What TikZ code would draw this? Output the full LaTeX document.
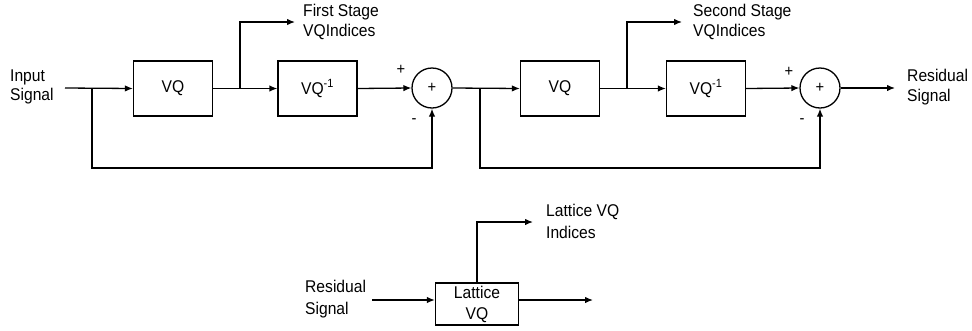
\documentclass[tikz,border=0pt]{standalone}
\usepackage{fontspec}
\setmainfont[FakeStretch=0.92]{Liberation Sans}
\usetikzlibrary{arrows.meta}
\begin{document}
\begin{tikzpicture}[x=1pt,y=-1pt,
  blk/.style={draw, line width=1.3pt, minimum width=79pt, minimum height=55pt, inner sep=0pt, font=\fontsize{17}{21}\selectfont, align=center},
  sum/.style={draw, circle, line width=1.3pt, minimum size=40pt, inner sep=0pt, font=\fontsize{16}{17}\selectfont},
  lbl/.style={font=\fontsize{17}{19.5}\selectfont, align=left, inner sep=0pt},
  sgn/.style={font=\fontsize{16}{16}\selectfont, inner sep=0pt},
  wire/.style={line width=1.3pt},
  arr/.style={wire, -{Latex[length=8pt,width=6.5pt]}}]
\useasboundingbox (0,0) rectangle (972,330);
% blocks
\node[blk] (vq1) at (173,88.5) {VQ};
\node[blk] (ivq1) at (317.5,88.5) {VQ\textsuperscript{-1}};
\node[sum] (s1) at (432,88) {+};
\node[blk] (vq2) at (560,88.5) {VQ};
\node[blk] (ivq2) at (706,88.5) {VQ\textsuperscript{-1}};
\node[sum] (s2) at (820,88) {+};
\node[blk, minimum width=83pt, minimum height=42pt] (lvq) at (477,304) {Lattice\\VQ};
% labels
\node[lbl, anchor=west] (in) at (10,87) {Input\\Signal};
\node[lbl, anchor=west] (fs) at (303,22) {First Stage\\VQIndices};
\node[lbl, anchor=west] (ss) at (693,22) {Second Stage\\VQIndices};
\node[lbl, anchor=west] (rs) at (907,87) {Residual\\Signal};
\node[lbl, anchor=west, font=\fontsize{17}{22}\selectfont] (rs2) at (305,299) {Residual\\Signal};
\node[lbl, anchor=west, font=\fontsize{17}{22}\selectfont] (li) at (546,221) {Lattice VQ\\Indices};
\node[sgn] (p1) at (401,70) {+};
\node[sgn] (m1) at (414,121) {-};
\node[sgn] (p2) at (789,72) {+};
\node[sgn] (m2) at (802,121) {-};
% coordinates
\coordinate (inS) at (65,88);
\coordinate (b1) at (92,88);
\coordinate (b2) at (240,88);
\coordinate (t1) at (295,22);
\coordinate (b3) at (480,88);
\coordinate (b4) at (627,88);
\coordinate (t2) at (682,22);
\coordinate (out1) at (895,88);
\coordinate (lin) at (372,300);
\coordinate (lout) at (593,300);
\coordinate (t3) at (533,222);
% connectors
\draw[arr] (inS) -- (vq1.west);
\draw[arr] (vq1.east) -- (ivq1.west);
\draw[arr] (b2) |- (t1);
\draw[arr] (ivq1.east) -- (s1.west);
\draw[arr] (b1) -- ++(0,80) -| (s1.south);
\draw[arr] (s1.east) -- (vq2.west);
\draw[arr] (b3) -- ++(0,80) -| (s2.south);
\draw[arr] (vq2.east) -- (ivq2.west);
\draw[arr] (b4) |- (t2);
\draw[arr] (ivq2.east) -- (s2.west);
\draw[arr] (s2.east) -- (out1);
\draw[arr] (lin) -- (lin -| lvq.west);
\draw[arr] (lvq.east |- lout) -- (lout);
\draw[arr] (lvq.north) |- (t3);
\end{tikzpicture}
\end{document}
